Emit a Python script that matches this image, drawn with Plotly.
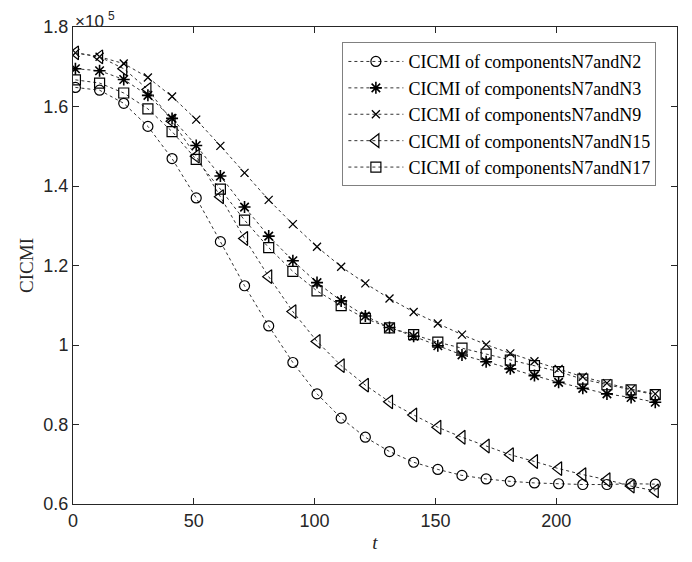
import plotly.graph_objects as go

t = [1, 11, 21, 31, 41, 51, 61, 71, 81, 91, 101, 111, 121, 131, 141, 151, 161, 171, 181, 191, 201, 211, 221, 231, 241]

# values in units of 1e5
n2 = [1.648, 1.641, 1.608, 1.550, 1.469, 1.370, 1.260, 1.149, 1.048, 0.956, 0.877, 0.816, 0.768, 0.732, 0.705,
      0.687, 0.672, 0.663, 0.657, 0.653, 0.651, 0.649, 0.649, 0.651, 0.650]
n3 = [1.695, 1.690, 1.668, 1.628, 1.570, 1.502, 1.425, 1.347, 1.274, 1.212, 1.157, 1.111, 1.073, 1.044, 1.022,
      0.998, 0.975, 0.958, 0.940, 0.923, 0.906, 0.891, 0.877, 0.868, 0.856]
n9 = [1.735, 1.725, 1.708, 1.673, 1.625, 1.567, 1.501, 1.433, 1.365, 1.304, 1.247, 1.197, 1.155, 1.117, 1.083,
      1.054, 1.026, 1.001, 0.979, 0.959, 0.940, 0.920, 0.904, 0.889, 0.877]
n15 = [1.735, 1.725, 1.695, 1.643, 1.563, 1.475, 1.373, 1.268, 1.172, 1.084, 1.009, 0.948, 0.899, 0.857, 0.824,
       0.793, 0.768, 0.746, 0.724, 0.707, 0.689, 0.674, 0.661, 0.645, 0.633]
n17 = [1.667, 1.659, 1.634, 1.594, 1.537, 1.467, 1.392, 1.314, 1.245, 1.185, 1.136, 1.099, 1.067, 1.043, 1.026,
       1.007, 0.992, 0.977, 0.962, 0.948, 0.933, 0.914, 0.900, 0.887, 0.875]

names = ["CICMI of componentsN7andN2", "CICMI of componentsN7andN3", "CICMI of componentsN7andN9",
         "CICMI of componentsN7andN15", "CICMI of componentsN7andN17"]
series = [n2, n3, n9, n15, n17]

y_ticks = [0.6, 0.8, 1.0, 1.2, 1.4, 1.6, 1.8]
y_ticktext = ["0.6", "0.8", "1", "1.2", "1.4", "1.6", "1.8"]
x_ticks = [0, 50, 100, 150, 200, 250]

SCALE = 1e5
styles = [
    dict(symbol="circle-open", size=10, lw=1.2),
    dict(symbol="asterisk-open", size=10, lw=1.6),
    dict(symbol="x-thin-open", size=8, lw=1.3),
    dict(symbol="triangle-left-open", size=12, lw=1.2),
    dict(symbol="square-open", size=10, lw=1.2),
]

fig = go.Figure()
for name, vals, st in zip(names, series, styles):
    fig.add_trace(go.Scatter(
        x=t, y=[v * SCALE for v in vals], name=name, mode="lines+markers",
        line=dict(color="#333333", width=1, dash="dot"),
        marker=dict(color="black", symbol=st["symbol"], size=st["size"],
                    line=dict(color="black", width=st["lw"])),
    ))

axis_common = dict(
    showline=True, linecolor="#262626", linewidth=1, mirror="ticks",
    ticks="inside", ticklen=6, tickcolor="#262626", showgrid=False, zeroline=False,
    automargin=False,
    tickfont=dict(family="Liberation Sans, Arial", size=18, color="#262626"),
)

# page body has an 8px default margin, so the figure is sized/offset to compensate
fig.update_layout(
    width=684, height=554,
    margin=dict(l=65, r=15, t=19, b=58),
    paper_bgcolor="white", plot_bgcolor="white",
    xaxis=dict(range=[0, 250], tickvals=x_ticks, **axis_common,
               title=dict(text="<i>t</i>", font=dict(family="Liberation Serif, Times New Roman", size=19, color="#262626"),
                          standoff=6)),
    yaxis=dict(range=[0.6 * SCALE, 1.8 * SCALE], tickvals=[v * SCALE for v in y_ticks], ticktext=y_ticktext,
               **axis_common,
               title=dict(text="CICMI", font=dict(family="Liberation Serif, Times New Roman", size=19, color="#262626"),
                          standoff=4)),
    legend=dict(x=0.446, y=0.968, xanchor="left", yanchor="top",
                bgcolor="white", bordercolor="#808080", borderwidth=1,
                font=dict(family="Liberation Serif, Times New Roman", size=18, color="black"),
                itemwidth=55, tracegroupgap=0),
    showlegend=True,
    annotations=[
        dict(text="×10", xref="paper", yref="paper", x=0, y=1, xanchor="left", yanchor="middle",
             showarrow=False, xshift=0, yshift=6,
             font=dict(family="Liberation Sans, Arial", size=17, color="#262626")),
        dict(text="5", xref="paper", yref="paper", x=0, y=1, xanchor="left", yanchor="top",
             showarrow=False, xshift=34, yshift=19, borderpad=0,
             font=dict(family="Liberation Sans, Arial", size=12, color="#262626")),
    ],
)

fig.write_html("out.html")
